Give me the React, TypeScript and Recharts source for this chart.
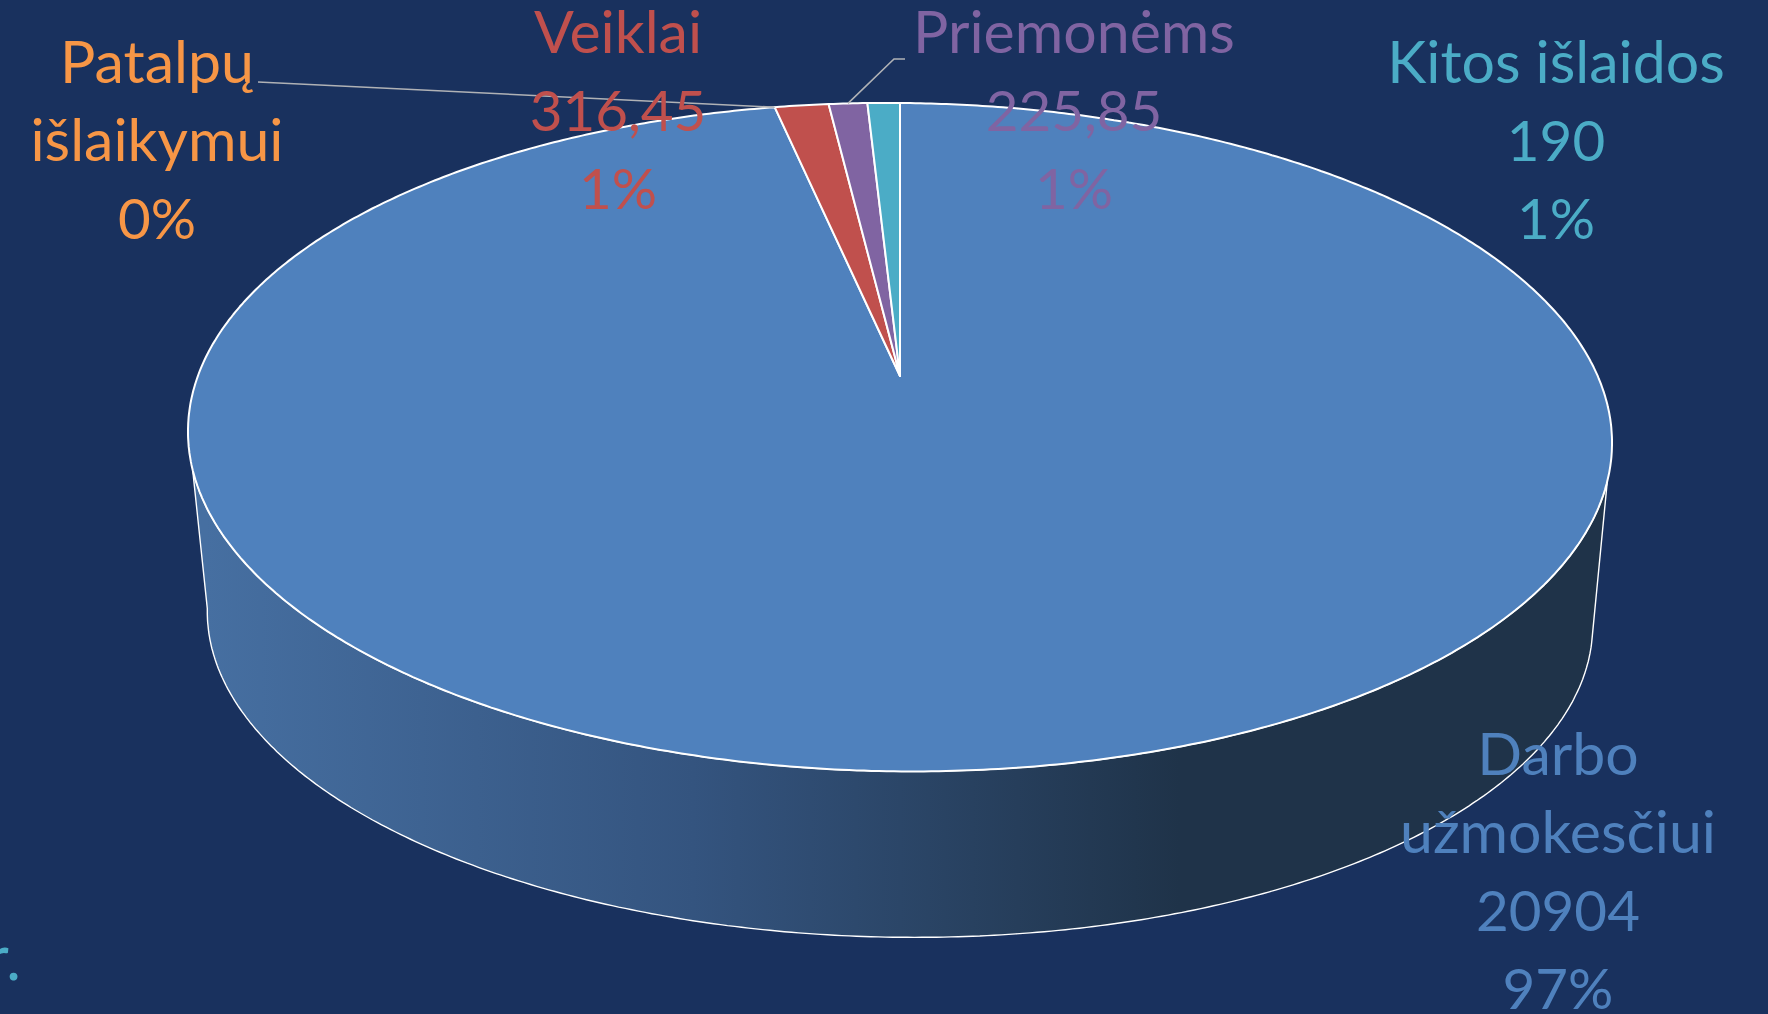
import React from "react";
import { PieChart, Pie } from "recharts";

const categories = ["Darbo užmokesčiui", "Patalpų išlaikymui", "Veiklai", "Priemonėms", "Kitos išlaidos"];
const values = [20904, 0, 316.45, 225.85, 190];
const valueLabels = ["20904", "", "316,45", "225,85", "190"];
const percentLabels = ["97%", "0%", "1%", "1%", "1%"];
const colors = ["#4f81bd", "#f79646", "#c0504d", "#8064a2", "#4bacc6"];
const nameLines = [["Darbo", "užmokesčiui"], ["Patalpų", "išlaikymui"], ["Veiklai"], ["Priemonėms"], ["Kitos išlaidos"]];

const data = categories.map((name, i) => ({ name, value: values[i], fill: colors[i] }));

const BG = "#19315e";
const FONT = "Lato, Carlito, 'Open Sans', sans-serif";
const FS_NAME = 59;
const FS_NUM = 56.5;
const LINE = 78;

// label placement: centre x, first baseline
const labelPos = [
  { x: 1558, y: 775 },
  { x: 157, y: 83 },
  { x: 618, y: 53 },
  { x: 1074, y: 53 },
  { x: 1556, y: 83 },
];

// 3D projection of the pie's circle (perspective + tilt)
const K = 0.183;
const Y_RATIO = 323 / 700;
const SHEAR = 0.008;
const project = (cx: number, cy: number, R: number, thetaDeg: number, shear = SHEAR) => {
  const t = (thetaDeg * Math.PI) / 180;
  const d = 1 + K * Math.cos(t);
  const x = (R * Math.sin(t)) / d;
  const y = (-R * Y_RATIO * Math.cos(t)) / d;
  return [cx + x, cy + y + shear * x];
};
const arcPoints = (cx: number, cy: number, R: number, a: number, b: number, shear = SHEAR) => {
  const n = Math.max(2, Math.ceil(Math.abs(b - a) / 0.5));
  const pts: number[][] = [];
  for (let i = 0; i <= n; i++) pts.push(project(cx, cy, R, a + ((b - a) * i) / n, shear));
  return pts;
};
const toPath = (pts: number[][]) => pts.map((p, i) => `${i ? "L" : "M"}${p[0].toFixed(1)},${p[1].toFixed(1)}`).join("") + "Z";

const TopSector = (props: any) => {
  const { cx, cy, outerRadius, startAngle, endAngle, fill } = props;
  if (Math.abs(endAngle - startAngle) < 0.01) return <g />;
  const a = 90 - startAngle;
  const b = 90 - endAngle;
  const pts = [[cx, cy], ...arcPoints(cx, cy, outerRadius, a, b)];
  return <path d={toPath(pts)} fill={fill} stroke="#ffffff" strokeWidth={2} strokeLinejoin="round" />;
};

const WALL_DROP = 184;
const WALL_SCALE = 681 / 700;
const BOTTOM_YSCALE = 309 / 315;
const WallSector = (props: any) => {
  const { cx, cy, outerRadius, startAngle, endAngle } = props;
  const a = Math.max(90 - startAngle, 107);
  const b = Math.min(90 - endAngle, 253);
  if (b <= a) return <g />;
  const aBottom = a === 107 ? 103 : a;
  const bBottom = b === 253 ? 260 : b;
  const top = arcPoints(cx, cy, outerRadius, a, b);
  const bottom = arcPoints(cx, cy + WALL_DROP, outerRadius * WALL_SCALE, bBottom, aBottom, 0.01).map((p) => [
    p[0],
    cy + WALL_DROP + (p[1] - cy - WALL_DROP) * BOTTOM_YSCALE,
  ]);
  return (
    <g>
      <defs>
        <linearGradient id="wallGrad" gradientUnits="userSpaceOnUse" x1={206} y1={0} x2={1180} y2={0}>
          <stop offset="0" stopColor="#466fa1" />
          <stop offset="0.5" stopColor="#34547f" />
          <stop offset="1" stopColor="#1f3349" />
        </linearGradient>
      </defs>
      <path d={toPath([...top, ...bottom])} fill="url(#wallGrad)" stroke="#ffffff" strokeWidth={1.4} strokeLinejoin="round" />
    </g>
  );
};

const renderLabel = (props: any) => {
  const { index, cx, cy, outerRadius, midAngle } = props;
  const pos = labelPos[index];
  const names = nameLines[index];
  const rows = [
    ...names.map((t) => ({ t, fs: FS_NAME })),
    ...(valueLabels[index] ? [{ t: valueLabels[index], fs: FS_NUM }] : []),
    { t: percentLabels[index], fs: FS_NUM },
  ];
  const tip = project(cx, cy, outerRadius, 90 - midAngle);
  let leader: string | null = null;
  if (index === 1) leader = `M258,82L${tip[0].toFixed(1)},${tip[1].toFixed(1)}`;
  if (index === 3) leader = `M${tip[0].toFixed(1)},${tip[1].toFixed(1)}L894,59L905,59`;
  return (
    <g key={index}>
      {leader && <path d={leader} fill="none" stroke="#b0b2b6" strokeWidth={1.6} />}
      <text x={pos.x} y={pos.y} textAnchor="middle" fontFamily={FONT} fontSize={FS_NAME} fill={colors[index]}>
        {rows.map((r, i) => (
          <tspan key={i} x={pos.x} y={pos.y + i * LINE} fontSize={r.fs}>
            {r.t}
          </tspan>
        ))}
      </text>
    </g>
  );
};

export default function App() {
  return (
    <div style={{ position: "absolute", left: 0, top: 0, width: 1768, height: 1014, background: BG, overflow: "hidden" }}>
      <PieChart width={1768} height={1014} margin={{ top: 0, right: 0, bottom: 0, left: 0 }}>
        <Pie
          data={data}
          dataKey="value"
          nameKey="name"
          cx={900}
          cy={376}
          outerRadius={700}
          startAngle={90}
          endAngle={-270}
          isAnimationActive={false}
          shape={WallSector}
          label={false}
          labelLine={false}
        />
        <Pie
          data={data}
          dataKey="value"
          nameKey="name"
          cx={900}
          cy={376}
          outerRadius={700}
          startAngle={90}
          endAngle={-270}
          isAnimationActive={false}
          shape={TopSector}
          label={renderLabel}
          labelLine={false}
        />
        <text x={21} y={980} textAnchor="end" fontFamily={FONT} fontSize={62} fill="#4bacc6">
          r.
        </text>
      </PieChart>
    </div>
  );
}
